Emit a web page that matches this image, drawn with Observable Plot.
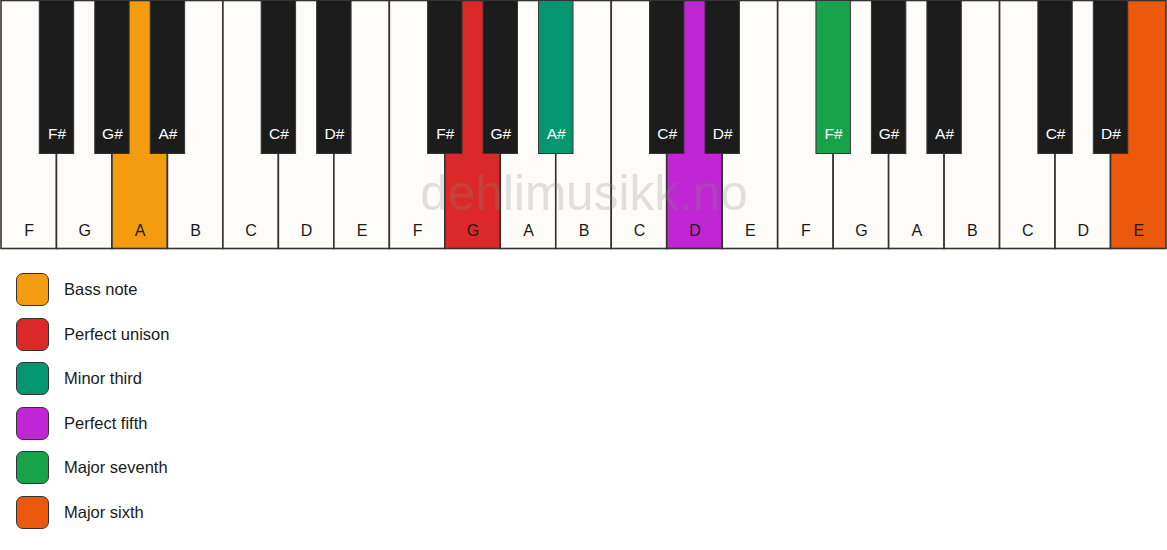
<!DOCTYPE html>
<html>
<head>
<meta charset="utf-8">
<script src="https://cdn.jsdelivr.net/npm/d3@7"></script>
<script src="https://cdn.jsdelivr.net/npm/@observablehq/plot@0.6"></script>
<style>
  body { margin: 0; background: #ffffff; font-family: "Liberation Sans", Arial, sans-serif; }
  #chart svg { display: block; }
  #legend { padding-top: 22px; }
  .row { display: flex; align-items: center; height: 33.5px; margin-bottom: 11px; }
  .sw { width: 31px; height: 31px; margin-left: 16px; border: 1.5px solid #333; border-radius: 7px; }
  .lb { margin-left: 15px; font-size: 16.5px; color: #1a1a1a; }
</style>
</head>
<body>
<div id="chart"></div>
<div id="legend"></div>
<script>
const whiteNotes = ["F","G","A","B","C","D","E","F","G","A","B","C","D","E","F","G","A","B","C","D","E"];
const whiteInterval = [null,null,"Bass note",null,null,null,null,null,"Perfect unison",null,null,null,"Perfect fifth",null,null,null,null,null,null,null,"Major sixth"];
const blackNotes = ["F#","G#","A#","C#","D#","F#","G#","A#","C#","D#","F#","G#","A#","C#","D#"];
const blackSlots = [1,2,3,5,6,8,9,10,12,13,15,16,17,19,20];
const blackInterval = [null,null,null,null,null,null,null,"Minor third",null,null,"Major seventh",null,null,null,null];
const intervalNames = ["Bass note","Perfect unison","Minor third","Perfect fifth","Major seventh","Major sixth"];
const intervalColors = ["#f39c0f","#dc2828","#04966e","#c026d3","#18a34a","#ea580c"];
const watermark = "dehlimusikk.no";

const colorOf = new Map(intervalNames.map((n, i) => [n, intervalColors[i]]));
const whites = whiteNotes.map((note, i) => ({note, i, interval: whiteInterval[i]}));
const blacks = blackNotes.map((note, i) => ({note, slot: blackSlots[i], interval: blackInterval[i]}));
const half = 0.31;
const blackBottom = 0.617;

const plot = Plot.plot({
  width: 1167,
  height: 251,
  margin: 0,
  x: {domain: [0, 21], range: [1, 1166], axis: null},
  y: {domain: [0, 1], range: [0.5, 248.5], axis: null},
  style: {fontFamily: "Liberation Sans, Arial, sans-serif", background: "transparent"},
  marks: [
    Plot.rect(whites, {
      x1: d => d.i, x2: d => d.i + 1, y1: 0, y2: 1,
      fill: d => d.interval ? colorOf.get(d.interval) : "#fdfcf9",
      stroke: "#333333", strokeWidth: 1.6
    }),
    Plot.rect(blacks, {
      x1: d => d.slot - half, x2: d => d.slot + half, y1: 0, y2: blackBottom,
      fill: d => d.interval ? colorOf.get(d.interval) : "#1c1c1c",
      stroke: "#333333", strokeWidth: 1
    }),
    Plot.text(whites, {
      x: d => d.i + 0.5, y: 0.926, text: "note",
      fill: "#1a1a1a", fontSize: 16
    }),
    Plot.text(blacks, {
      x: d => d.slot, y: 0.536, text: "note",
      fill: "#ffffff", fontSize: 15.5
    }),
    Plot.text([watermark], {
      x: 10.5, y: 0.78, text: d => d,
      fill: "#888888", fillOpacity: 0.25, fontSize: 49.5
    })
  ]
});
document.getElementById("chart").appendChild(plot);

const legend = d3.select("#legend");
intervalNames.forEach((name, i) => {
  const row = legend.append("div").attr("class", "row");
  row.append("div").attr("class", "sw").style("background", intervalColors[i]);
  row.append("div").attr("class", "lb").text(name);
});
</script>
</body>
</html>
